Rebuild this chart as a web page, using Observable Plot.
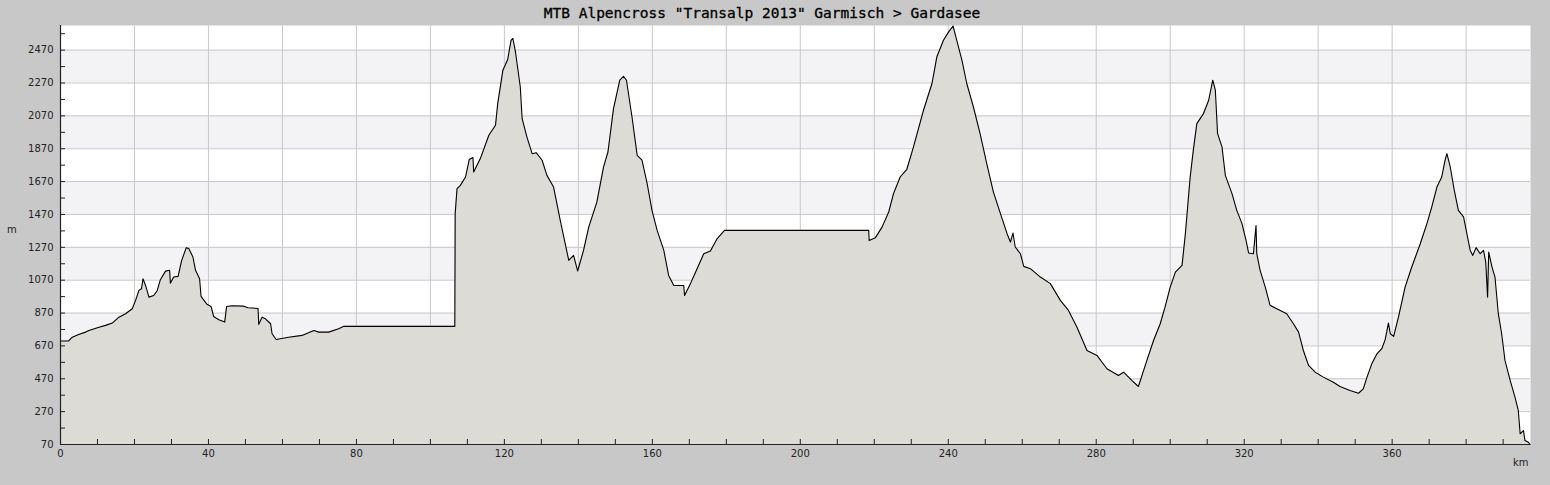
<!DOCTYPE html>
<html>
<head>
<meta charset="utf-8">
<script src="https://cdn.jsdelivr.net/npm/d3@7"></script>
<script src="https://cdn.jsdelivr.net/npm/@observablehq/plot@0.6"></script>
<style>
  html, body { margin: 0; padding: 0; background: #c8c8c8; width: 1550px; height: 485px; overflow: hidden; }
  #wrap { position: relative; width: 1550px; height: 485px; }
  #title { position: absolute; left: 0; top: 5px; width: 1524px; text-align: center; font-family: "DejaVu Sans Mono", monospace; font-size: 14.5px; color: #000; -webkit-text-stroke: 0.3px #000; }
  #ylab { position: absolute; left: 7px; top: 224px; font-family: "DejaVu Sans", sans-serif; font-size: 10px; color: #222; }
  #xlab { position: absolute; left: 1513px; top: 457px; font-family: "DejaVu Sans", sans-serif; font-size: 10px; color: #222; }
  svg { position: absolute; left: 0; top: 0; }
</style>
</head>
<body>
<div id="wrap">
  <div id="chart"></div>
  <div id="title">MTB Alpencross "Transalp 2013" Garmisch &gt; Gardasee</div>
  <div id="ylab">m</div>
  <div id="xlab">km</div>
</div>
<script>
const km = [
  0, 2.2, 3.2, 4.9, 6.8, 7.7, 10.4, 12.2, 14, 15.8, 17.6, 19.4, 20.3, 21.2, 21.9, 22.3, 23, 23.9, 25.2, 26.1,
  27, 28.4, 29.5, 29.7, 30.6, 31.8, 32.7, 34, 34.7, 35.8, 36.5, 37.6, 38, 39.6, 40.7, 41.4, 42.8, 44.4, 44.9, 46.4,
  49.5, 50.7, 53.4, 53.6, 54.5, 55.4, 56.8, 57.2, 58.3, 61.7, 65.3, 68.5, 69.8, 72.5, 75.2, 76.6, 106.6,
  106.7, 107.2, 108.1, 109.5, 110.5, 111.5, 111.7, 113.5, 115.8, 117.6, 118.2, 119.6, 120.9, 121.8, 122.3, 123, 124.3,
  124.8, 126.1, 127.5, 128.6, 130.2, 131.5, 133.3, 135.1, 137.4, 138.7, 139.8, 141.4, 142.8, 145, 146.8, 148, 149.5,
  151.2, 152.2, 153, 154.5, 155.9, 157.2, 158.6, 159.9, 161.3, 163.1, 164.4, 165.8, 168.5, 168.7, 170.3, 172.1, 173.9,
  175.7, 177.5, 179.5, 218.5, 218.6, 220.3, 222.1, 223.9, 225.2, 227, 228.8, 230.6, 233.3, 235.6, 236.9, 238.7, 240.1,
  241.3, 242.3, 243.7, 245, 246.8, 248.6, 250.4, 252.2, 254.1, 255.9, 256.8, 257.5, 258.1, 259.5, 260.4, 262.2, 264.9,
  267.6, 270.3, 272.5, 274.8, 277.5, 280.2, 282.9, 286, 287.4, 289.6, 291.4, 292.8, 293.7, 295.5, 297.3, 298.6, 300,
  301.4, 303.2, 304.1, 305.4, 306.3, 307.2, 309, 310.4, 311.5, 312.2, 312.8, 314, 314.9, 316.7, 318, 319.4, 320.5,
  321.2, 322.5, 323.2, 323.4, 324.3, 325.7, 327, 328.8, 331.5, 333.3, 334.7, 336, 337.4, 339.2, 341.4, 344.1, 345.9,
  348.6, 350.9, 352.2, 353.2, 354.5, 355.9, 357.2, 358.1, 359, 359.5, 360.4, 361.7, 363.5, 365.3, 367.6, 369.4, 370.7,
  372.1, 373.4, 374.3, 374.8, 375.7, 376.8, 377.9, 379.3, 380.2, 381.1, 381.8, 382.7, 383.8, 384.7, 385.3, 385.8, 386.1,
  387, 387.8, 388.7, 389.6, 390.5, 391.9, 393.2, 394.1, 394.6, 395.5, 395.9, 396.8, 397.3
];
const elev = [
  700, 700, 723, 740, 754, 764, 784, 795, 809, 845, 866, 896, 947, 1008, 1018, 1079, 1038, 967, 977, 1004,
  1073, 1125, 1130, 1052, 1089, 1093, 1186, 1268, 1262, 1211, 1130, 1079, 971, 923, 910, 849, 829, 815, 910, 914,
  912, 902, 898, 801, 845, 835, 805, 744, 709, 723, 734, 764, 754, 754, 775, 789, 789,
  1475, 1627, 1647, 1698, 1804, 1816, 1729, 1810, 1952, 2013, 2145, 2348, 2413, 2530, 2541, 2459, 2246,
  2053, 1941, 1840, 1846, 1800, 1708, 1637, 1434, 1191, 1221, 1126, 1251, 1393, 1545, 1758, 1850, 2114,
  2287, 2311, 2287, 2063, 1830, 1800, 1658, 1495, 1373, 1251, 1099, 1038, 1038, 977, 1049, 1140, 1231,
  1247, 1322, 1373, 1373, 1312, 1329, 1393, 1485, 1597, 1698, 1745, 1881, 2104, 2267, 2428, 2530, 2581,
  2617, 2530, 2408, 2267, 2124, 1962, 1779, 1606, 1475, 1353, 1302, 1357, 1272, 1231, 1154, 1140, 1089,
  1049, 947, 886, 784, 642, 612, 531, 490, 510, 460, 423, 520, 582, 703, 805, 906, 1028,
  1119, 1160, 1353, 1698, 1871, 2023, 2084, 2165, 2287, 2226, 1962, 1881, 1708, 1597, 1495, 1414, 1312,
  1235, 1231, 1403, 1231, 1130, 1028, 917, 896, 866, 805, 754, 642, 551, 510, 480, 449, 423,
  399, 382, 409, 480, 561, 622, 653, 707, 809, 744, 728, 845, 1028, 1150, 1292, 1414, 1515,
  1637, 1698, 1799, 1840, 1759, 1617, 1495, 1455, 1353, 1251, 1221, 1268, 1231, 1251, 1180, 967, 1241,
  1150, 1089, 866, 744, 582, 460, 358, 277, 135, 155, 94, 84, 70
];

const yLabels = [70, 270, 470, 670, 870, 1070, 1270, 1470, 1670, 1870, 2070, 2270, 2470];
const yMinor = [170, 370, 570, 770, 970, 1170, 1370, 1570, 1770, 1970, 2170, 2370, 2570];
const xLabels = [0, 40, 80, 120, 160, 200, 240, 280, 320, 360];
const xGrid = [20, 40, 60, 80, 100, 120, 140, 160, 180, 200, 220, 240, 260, 280, 300, 320, 340, 360, 380];
const xMinor = [10, 20, 30, 40, 50, 60, 70, 80, 90, 100, 110, 120, 130, 140, 150, 160, 170, 180, 190, 200,
  210, 220, 230, 240, 250, 260, 270, 280, 290, 300, 310, 320, 330, 340, 350, 360, 370, 380, 390];
const yMin = 70, yMax = 2620, xMax = 397.4;

const profile = km.map((k, i) => ({km: k, elev: elev[i]}));
// shaded bands between alternate labelled ticks
const bands = [];
for (let i = 1; i + 1 < yLabels.length; i += 2) bands.push({y1: yLabels[i], y2: yLabels[i + 1]});

const chart = Plot.plot({
  width: 1550,
  height: 485,
  marginLeft: 60,
  marginRight: 20,
  marginTop: 25,
  marginBottom: 41,
  x: {domain: [0, xMax], label: null},
  y: {domain: [yMin, yMax], label: null},
  style: {fontFamily: "DejaVu Sans", fontSize: "10px", color: "#222", background: "transparent"},
  marks: [
    Plot.frame({fill: "white", stroke: null}),
    Plot.rect(bands, {y1: "y1", y2: "y2", fill: "#f3f2f5"}),
    Plot.ruleY(yLabels.slice(1), {stroke: "#c8c8c8", strokeWidth: 1}),
    Plot.ruleX(xGrid, {stroke: "#c8c8c8", strokeWidth: 1}),
    Plot.area(profile, {x1: "km", y1: () => yMin, y2: "elev", fill: "#dcdbd6"}),
    Plot.line(profile, {x: "km", y: "elev", stroke: "black", strokeWidth: 1.1}),
    Plot.ruleY([yMin], {stroke: "#222", strokeWidth: 1.2}),
    Plot.ruleX([0], {stroke: "#222", strokeWidth: 1.2}),
    Plot.axisX(xMinor, {tickSize: -5, tickFormat: () => "", label: null}),
    Plot.axisX(xLabels, {tickSize: 0, tickPadding: 5, tickFormat: d => String(d), label: null}),
    Plot.axisY(yMinor.concat(yLabels.slice(1)), {tickSize: -5, tickFormat: () => "", label: null}),
    Plot.axisY(yLabels, {tickSize: 0, tickPadding: 7, tickFormat: d => String(d), label: null})
  ]
});
document.getElementById("chart").appendChild(chart);
</script>
</body>
</html>
